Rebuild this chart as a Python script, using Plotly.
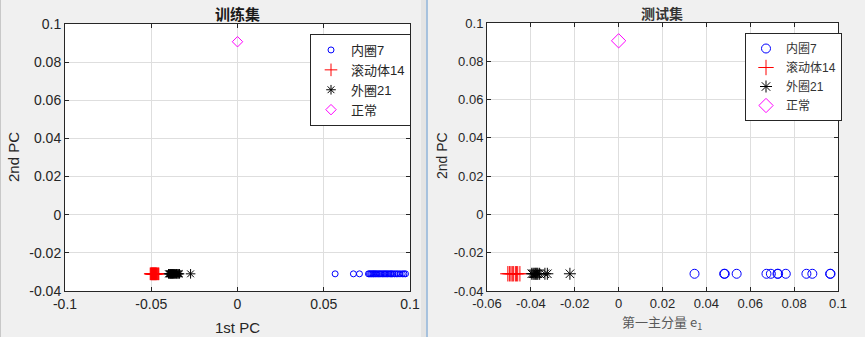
import plotly.graph_objects as go

# ---------------- data ----------------
series_names = ["内圈7", "滚动体14", "外圈21", "正常"]
series_colors = ["#0000ff", "#ff0000", "#000000", "#ff00ff"]
series_symbols = ["circle-open", "cross-thin-open", "asterisk-open", "diamond-open"]

pc_y_fault = -0.031
pc_y_normal = 0.0907

# training set (1st PC values)
train_inner = [0.0566, 0.0672, 0.0707, 0.0759, 0.0765, 0.0772, 0.0778, 0.0785, 0.0790,
               0.0797, 0.0803, 0.0810, 0.0818, 0.0825, 0.0832, 0.0840, 0.0848, 0.0855,
               0.0862, 0.0870, 0.0878, 0.0886, 0.0893, 0.0900, 0.0910, 0.0920, 0.0930,
               0.0942, 0.0955, 0.0965, 0.0974]
train_ball = [-0.0506, -0.0503, -0.0500, -0.0498, -0.0496, -0.0494, -0.0492, -0.0490,
              -0.0488, -0.0486, -0.0484, -0.0482, -0.0480, -0.0478, -0.0476, -0.0474,
              -0.0472, -0.0470, -0.0467, -0.0463, -0.0459, -0.0456]
train_outer = [-0.0400, -0.0396, -0.0392, -0.0390, -0.0387, -0.0384, -0.0381, -0.0379,
               -0.0376, -0.0373, -0.0370, -0.0366, -0.0362, -0.0358, -0.0354, -0.0350,
               -0.0345, -0.0340, -0.0336, -0.0272]
train_normal = [0.0]

# test set (1st principal component e1)
test_inner = [0.0346, 0.0481, 0.0484, 0.0538, 0.0674, 0.0694, 0.0724, 0.0727, 0.0762,
              0.0856, 0.0883, 0.0964, 0.0966]
test_ball = [-0.0505, -0.0498, -0.0491, -0.0485, -0.0480, -0.0471, -0.0466, -0.0460, -0.0450]
test_outer = [-0.0396, -0.0390, -0.0385, -0.0380, -0.0376, -0.0372, -0.0368, -0.0360,
              -0.0336, -0.0325, -0.0222]
test_normal = [0.0]

left_xticks = [-0.1, -0.05, 0, 0.05, 0.1]
left_xticklabels = ["-0.1", "-0.05", "0", "0.05", "0.1"]
right_xticks = [-0.06, -0.04, -0.02, 0, 0.02, 0.04, 0.06, 0.08, 0.1]
right_xticklabels = ["-0.06", "-0.04", "-0.02", "0", "0.02", "0.04", "0.06", "0.08", "0.1"]
yticks = [-0.04, -0.02, 0, 0.02, 0.04, 0.06, 0.08, 0.1]
yticklabels = ["-0.04", "-0.02", "0", "0.02", "0.04", "0.06", "0.08", "0.1"]

# ---------------- figure ----------------
W, H = 865, 337
FONT = "Liberation Sans, Arial, Noto Sans CJK SC"
CJK = "Noto Sans CJK SC, Liberation Sans"
TXT = "#262626"

fig = go.Figure()

train_sets = [train_inner, train_ball, train_outer, train_normal]
test_sets = [test_inner, test_ball, test_outer, test_normal]
train_sizes = [6, 9, 8, 8]
test_sizes = [9, 11, 10, 11]

for i, xs in enumerate(train_sets):
    ys = [pc_y_normal if i == 3 else pc_y_fault] * len(xs)
    fig.add_trace(go.Scatter(
        x=xs, y=ys, mode="markers", name=series_names[i],
        marker=dict(symbol=series_symbols[i], size=train_sizes[i],
                    color=series_colors[i], line=dict(color=series_colors[i], width=1)),
        xaxis="x", yaxis="y", legend="legend"))

for i, xs in enumerate(test_sets):
    ys = [pc_y_normal if i == 3 else pc_y_fault] * len(xs)
    fig.add_trace(go.Scatter(
        x=xs, y=ys, mode="markers", name=series_names[i],
        marker=dict(symbol=series_symbols[i], size=test_sizes[i],
                    color=series_colors[i], line=dict(color=series_colors[i], width=1)),
        xaxis="x2", yaxis="y2", legend="legend2"))

def px_x(p):
    return p / W

def px_y(p):
    return 1 - p / H

axis_common = dict(showline=True, linecolor=TXT, linewidth=1, mirror="ticks",
                   ticks="inside", ticklen=4, tickcolor=TXT, showgrid=True,
                   gridcolor="#dedede", gridwidth=1, zeroline=False, automargin=False)

fig.update_layout(
    width=W, height=H, margin=dict(l=0, r=0, t=0, b=0, autoexpand=False),
    paper_bgcolor="#f0f0f0", plot_bgcolor="#ffffff",
    font=dict(family=FONT, color=TXT, size=13),
    xaxis=dict(domain=[px_x(65), px_x(410)], range=[-0.1, 0.1], anchor="y",
               tickvals=left_xticks, ticktext=left_xticklabels,
               tickfont=dict(size=14, color=TXT), **axis_common),
    yaxis=dict(domain=[px_y(291), px_y(24)], range=[-0.04, 0.1], anchor="x",
               tickvals=yticks, ticktext=yticklabels,
               tickfont=dict(size=14, color=TXT), **axis_common),
    xaxis2=dict(domain=[px_x(487), px_x(838)], range=[-0.06, 0.1], anchor="y2",
                tickvals=right_xticks, ticktext=right_xticklabels,
                tickfont=dict(size=13, color=TXT), **axis_common),
    yaxis2=dict(domain=[px_y(291), px_y(23)], range=[-0.04, 0.1], anchor="x2",
                tickvals=yticks, ticktext=yticklabels,
                tickfont=dict(size=13, color=TXT), **axis_common),
    legend=dict(x=px_x(310), y=px_y(34), xanchor="left", yanchor="top",
                bgcolor="#ffffff", bordercolor=TXT, borderwidth=1,
                font=dict(family=FONT, size=13, color=TXT),
                itemwidth=30, tracegroupgap=0),
    legend2=dict(x=px_x(745), y=px_y(33), xanchor="left", yanchor="top",
                 bgcolor="#ffffff", bordercolor=TXT, borderwidth=1,
                 font=dict(family=FONT, size=12, color="#333333"),
                 itemwidth=30, tracegroupgap=0),
    showlegend=True,
)

annotations = [
    dict(text="<b>训练集</b>", x=px_x(238), y=px_y(13), font=dict(family=CJK, size=15, color="#1a1a1a")),
    dict(text="<b>测试集</b>", x=px_x(662), y=px_y(13), font=dict(family=CJK, size=14, color="#333333")),
    dict(text="1st PC", x=px_x(238), y=px_y(327), font=dict(family=FONT, size=15, color=TXT)),
    dict(text="第一主分量 e<sub>1</sub>", x=px_x(662), y=px_y(322), font=dict(family=CJK, size=13, color="#595959")),
    dict(text="2nd PC", x=px_x(13), y=px_y(157), textangle=-90, font=dict(family=FONT, size=15, color=TXT)),
    dict(text="2nd PC", x=px_x(442), y=px_y(155), textangle=-90, font=dict(family=FONT, size=14, color=TXT)),
]
for a in annotations:
    a.update(xref="paper", yref="paper", showarrow=False, xanchor="center", yanchor="middle")
fig.update_layout(annotations=annotations)

# window chrome: divider between the two screenshots
fig.update_layout(shapes=[
    dict(type="rect", xref="paper", yref="paper", x0=px_x(421), x1=px_x(426.5), y0=0, y1=1,
         fillcolor="#e4e4e4", line=dict(width=0), layer="below"),
    dict(type="line", xref="paper", yref="paper", x0=px_x(427), x1=px_x(427), y0=0, y1=1,
         line=dict(color="#8fb3d9", width=1.5)),
    dict(type="line", xref="paper", yref="paper", x0=px_x(0.5), x1=px_x(0.5), y0=0, y1=1,
         line=dict(color="#c8c8c8", width=1)),
])

fig.write_html("out.html")
